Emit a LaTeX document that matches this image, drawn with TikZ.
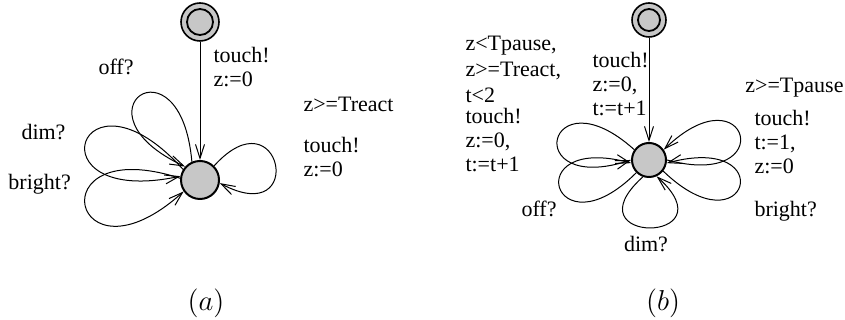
\documentclass[tikz,border=0pt]{standalone}
\usepackage{amsmath}
\usepackage{fontspec}
\setmainfont{Liberation Serif}
\usepackage{tikz}
\usetikzlibrary{arrows.meta}

\begin{document}
\begin{tikzpicture}[x=0.5pt, y=0.5pt,
    >={Straight Barb[length=7pt,width=4.5pt]},
    every path/.style={line width=0.5pt},
    state/.style={circle, draw, line width=1pt, fill=black!22, inner sep=0pt},
    initout/.style={circle, draw, line width=0.8pt, fill=black!22, inner sep=0pt},
    initin/.style={circle, draw, line width=0.9pt, fill=black!22, inner sep=0pt},
    lbl/.style={inner sep=0pt, align=left, font=\fontsize{11}{12}\selectfont}]
    \useasboundingbox (0,0) rectangle (845,320);
    % (a)
    \node[initout, minimum size=19pt] (LI) at (200,298) {};
    \node[initin, minimum size=13pt] (LIin) at (LI) {};
    \node[state, minimum size=19pt] (LM) at (200,140) {};
    \draw[->] (LI) -- (LM);
    \draw[->] (LM.114) .. controls +(95:129) and +(155:129) .. (LM.138);
    \draw[->] (LM.148) .. controls +(132:155) and +(192:155) .. (LM.169);
    \draw[->] (LM.175) .. controls +(162:152) and +(222:152) .. (LM.215);
    \draw[->] (LM.45) .. controls +(48:100) and +(-28:100) .. (LM.-9);
    \node[lbl, anchor=north west] (la1) at (213,273) {touch!\\z:=0};
    \node[lbl, anchor=base west] (la2) at (98,245) {off?};
    \node[lbl, anchor=base west] (la3) at (21,180) {dim?};
    \node[lbl, anchor=base west] (la4) at (8,130) {bright?};
    \node[lbl, anchor=base west] (la5) at (303,208) {z>=Treact};
    \node[lbl, anchor=north west] (la6) at (303,183) {touch!\\z:=0};
    \node[anchor=base, font=\Large] (capa) at (206,9) {$(a)$};
    % (b)
    \node[initout, minimum size=17pt] (RI) at (649,300) {};
    \node[initin, minimum size=11pt] (RIin) at (RI) {};
    \node[state, minimum size=17pt] (RM) at (649,160) {};
    \draw[->] (RI) -- (RM);
    \draw[->] (RM.145) .. controls +(138:118) and +(198:118) .. (RM.180);
    \draw[->] (RM.225) .. controls +(225:118) and +(165:118) .. (RM.190);
    \draw[->] (RM.250) .. controls +(222:102) and +(318:102) .. (RM.295);
    \draw[->] (RM.-38) .. controls +(-44:118) and +(15:118) .. (RM.-10);
    \draw[->] (RM.0) .. controls +(-15:118) and +(44:118) .. (RM.35);
    \node[lbl, anchor=north west] (lb1) at (465,284) {z<Tpause,\\[1pt]z>=Treact,\\[1pt]t<2};
    \node[lbl, anchor=north west] (lb2) at (465,212) {touch!\\z:=0,\\t:=t+1};
    \node[lbl, anchor=north west] (lb3) at (592,268) {touch!\\z:=0,\\t:=t+1};
    \node[lbl, anchor=base east] (lb4) at (844,227) {z>=Tpause};
    \node[lbl, anchor=north west] (lb5) at (754,210) {touch!\\t:=1,\\z:=0};
    \node[lbl, anchor=base west] (lb6) at (754,103) {bright?};
    \node[lbl, anchor=base west] (lb7) at (521,103) {off?};
    \node[lbl, anchor=base] (lb8) at (646,68) {dim?};
    \node[anchor=base, font=\Large] (capb) at (663,9) {$(b)$};
\end{tikzpicture}
\end{document}
